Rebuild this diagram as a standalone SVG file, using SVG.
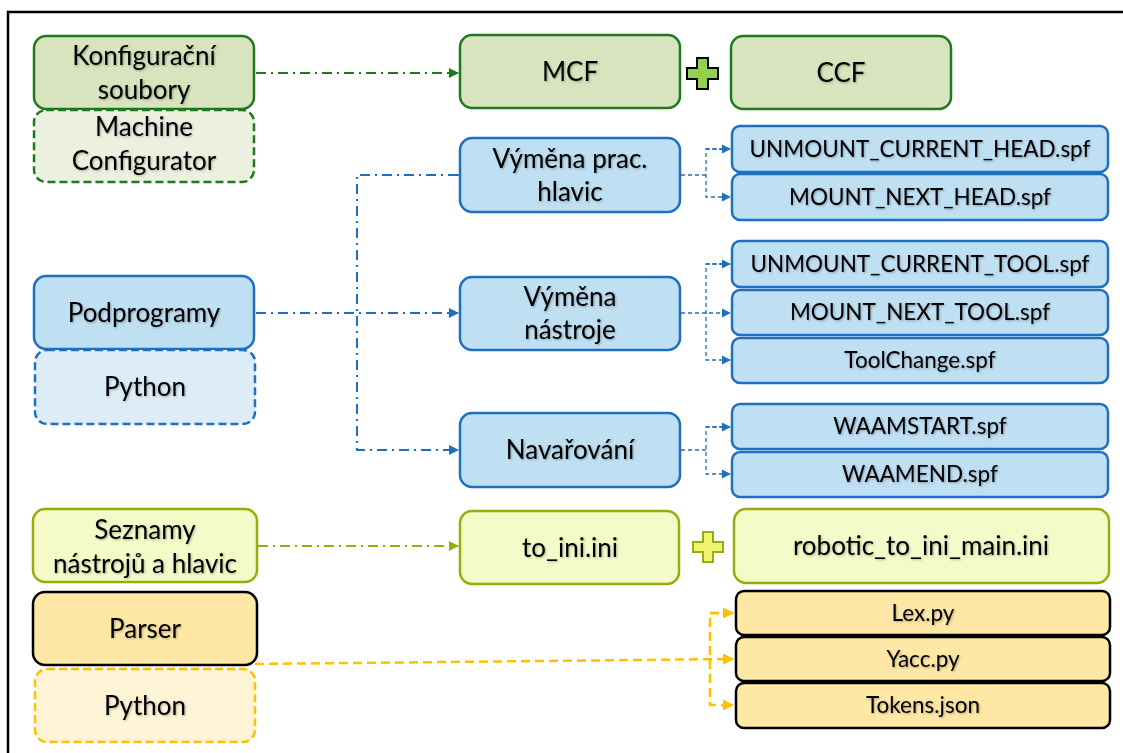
<svg xmlns="http://www.w3.org/2000/svg" width="1123" height="753" viewBox="0 0 1123 753">
  <defs>
    <filter id="ts" x="-10%" y="-30%" width="120%" height="160%">
      <feDropShadow dx="1" dy="1" stdDeviation="0.8" flood-color="#000" flood-opacity="0.3"/>
    </filter>
    <marker id="ah-green" viewBox="0 0 10 10" refX="9" refY="5" markerWidth="5" markerHeight="5" orient="auto" markerUnits="strokeWidth">
      <path d="M0,0 L10,5 L0,10 z" fill="#1e7a1e"/>
    </marker>
    <marker id="ah-blue" viewBox="0 0 10 10" refX="9" refY="5" markerWidth="5" markerHeight="5" orient="auto" markerUnits="strokeWidth">
      <path d="M0,0 L10,5 L0,10 z" fill="#1f6fc0"/>
    </marker>
    <marker id="ah-blue-s" viewBox="0 0 10 10" refX="9" refY="5" markerWidth="7" markerHeight="7" orient="auto" markerUnits="strokeWidth">
      <path d="M0,0 L10,5 L0,10 z" fill="#1f6fc0"/>
    </marker>
    <marker id="ah-olive" viewBox="0 0 10 10" refX="9" refY="5" markerWidth="5" markerHeight="5" orient="auto" markerUnits="strokeWidth">
      <path d="M0,0 L10,5 L0,10 z" fill="#9aab0d"/>
    </marker>
    <marker id="ah-orange" viewBox="0 0 10 10" refX="9" refY="5" markerWidth="4.5" markerHeight="4.5" orient="auto" markerUnits="strokeWidth">
      <path d="M0,0 L10,5 L0,10 z" fill="#ffc000"/>
    </marker>
  </defs>
  <style>
    text { font-family: Lato, "Liberation Sans", sans-serif; fill: #000; text-anchor: middle; filter: url(#ts); }
    .big { font-size: 26px; }
    .file { font-size: 22.5px; }
    .g { fill: #d7e4bd; stroke: #1e7a1e; stroke-width: 2.5; }
    .gd { fill: #ebf1de; stroke: #1e7a1e; stroke-width: 2.5; stroke-dasharray: 8 4; }
    .b { fill: #bfdff3; stroke: #1f6fc0; stroke-width: 2.5; }
    .bd { fill: #ddedf8; stroke: #1f6fc0; stroke-width: 2.5; stroke-dasharray: 8 4; }
    .o { fill: #f4fbc8; stroke: #9aab0d; stroke-width: 2.5; }
    .y { fill: #ffe8a6; stroke: #000; stroke-width: 2.5; }
    .yd { fill: #fff4d6; stroke: #ffc000; stroke-width: 2.5; stroke-dasharray: 8 4; }
    .c-green { fill: none; stroke: #1e7a1e; stroke-width: 2; stroke-dasharray: 10 5 2 5; marker-end: url(#ah-green); }
    .c-blue { fill: none; stroke: #1f6fc0; stroke-width: 2; stroke-dasharray: 10 5 2 5; }
    .c-blue-s { fill: none; stroke: #1f6fc0; stroke-width: 1.3; stroke-dasharray: 4 3; }
    .c-olive { fill: none; stroke: #9aab0d; stroke-width: 2; stroke-dasharray: 10 5 2 5; marker-end: url(#ah-olive); }
    .c-orange { fill: none; stroke: #ffc000; stroke-width: 2.5; stroke-dasharray: 9 5; }
  </style>

  <!-- outer frame (top and left edges) -->
  <path d="M8,753 L8,12 L1123,12" fill="none" stroke="#000" stroke-width="2.5"/>

  <!-- connectors -->
  <g id="connectors">
    <path class="c-green" d="M256,73 L458,73"/>
    <path class="c-blue" d="M256,313 L458,313" marker-end="url(#ah-blue)"/>
    <path class="c-blue" d="M458,175 L357,175 L357,450 L458,450" marker-start="url(#ah-blue)" marker-end="url(#ah-blue)"/>
    <path class="c-blue-s" d="M681,175 L706,175"/>
    <path class="c-blue-s" d="M730,149 L706,149 L706,197 L730,197" marker-end="url(#ah-blue-s)"/>
    <path class="c-blue-s" d="M706,149 L730,149" marker-end="url(#ah-blue-s)"/>
    <path class="c-blue-s" d="M681,313 L730,313" marker-end="url(#ah-blue-s)"/>
    <path class="c-blue-s" d="M730,264 L706,264 L706,360 L730,360" marker-end="url(#ah-blue-s)"/>
    <path class="c-blue-s" d="M706,264 L730,264" marker-end="url(#ah-blue-s)"/>
    <path class="c-blue-s" d="M681,450 L706,450"/>
    <path class="c-blue-s" d="M730,427 L706,427 L706,474 L730,474" marker-end="url(#ah-blue-s)"/>
    <path class="c-blue-s" d="M706,427 L730,427" marker-end="url(#ah-blue-s)"/>
    <path class="c-olive" d="M258,546 L458,546"/>
    <path class="c-orange" d="M255,664 L733,659" marker-end="url(#ah-orange)"/>
    <path class="c-orange" d="M733,613 L710,613 L710,705 L733,705" marker-end="url(#ah-orange)"/>
    <path class="c-orange" d="M710,613 L733,613" marker-end="url(#ah-orange)"/>
  </g>

  <!-- configuration files -->
  <g id="konfiguracni-soubory">
    <rect class="g" x="34" y="36" width="220" height="73" rx="12"/>
    <text class="big" x="144" y="65">Konfigurační</text>
    <text class="big" x="144" y="99">soubory</text>
  </g>
  <g id="machine-configurator">
    <rect class="gd" x="34" y="110" width="220" height="72" rx="12"/>
    <text class="big" x="144" y="136">Machine</text>
    <text class="big" x="144" y="170">Configurator</text>
  </g>
  <g id="mcf">
    <rect class="g" x="460" y="35" width="220" height="73" rx="12"/>
    <text class="big" x="570" y="81">MCF</text>
  </g>
  <g id="plus-green">
    <path d="M697,58 h11 v10 h10 v11 h-10 v10 h-11 v-10 h-10 v-11 h10 z" fill="#92d050" stroke="#000" stroke-width="2"/>
  </g>
  <g id="ccf">
    <rect class="g" x="731" y="36" width="220" height="73" rx="12"/>
    <text class="big" x="841" y="82">CCF</text>
  </g>

  <!-- subprograms -->
  <g id="podprogramy">
    <rect class="b" x="34" y="276" width="220" height="73" rx="12"/>
    <text class="big" x="144" y="322">Podprogramy</text>
  </g>
  <g id="python-blue">
    <rect class="bd" x="35" y="350" width="220" height="74" rx="12"/>
    <text class="big" x="145" y="396">Python</text>
  </g>
  <g id="vymena-hlavic">
    <rect class="b" x="460" y="138" width="220" height="74" rx="12"/>
    <text class="big" x="570" y="168">Výměna prac.</text>
    <text class="big" x="570" y="201">hlavic</text>
  </g>
  <g id="vymena-nastroje">
    <rect class="b" x="460" y="277" width="220" height="73" rx="12"/>
    <text class="big" x="570" y="306">Výměna</text>
    <text class="big" x="570" y="339">nástroje</text>
  </g>
  <g id="navarovani">
    <rect class="b" x="460" y="413" width="220" height="74" rx="12"/>
    <text class="big" x="570" y="459">Navařování</text>
  </g>
  <g id="unmount-current-head">
    <rect class="b" x="732" y="126" width="376" height="46" rx="8"/>
    <text class="file" x="920" y="157">UNMOUNT_CURRENT_HEAD.spf</text>
  </g>
  <g id="mount-next-head">
    <rect class="b" x="732" y="174" width="376" height="46" rx="8"/>
    <text class="file" x="920" y="205">MOUNT_NEXT_HEAD.spf</text>
  </g>
  <g id="unmount-current-tool">
    <rect class="b" x="732" y="241" width="376" height="46" rx="8"/>
    <text class="file" x="920" y="272">UNMOUNT_CURRENT_TOOL.spf</text>
  </g>
  <g id="mount-next-tool">
    <rect class="b" x="732" y="290" width="376" height="45" rx="8"/>
    <text class="file" x="920" y="320">MOUNT_NEXT_TOOL.spf</text>
  </g>
  <g id="toolchange">
    <rect class="b" x="732" y="338" width="376" height="45" rx="8"/>
    <text class="file" x="920" y="368">ToolChange.spf</text>
  </g>
  <g id="waamstart">
    <rect class="b" x="732" y="404" width="376" height="45" rx="8"/>
    <text class="file" x="920" y="434">WAAMSTART.spf</text>
  </g>
  <g id="waamend">
    <rect class="b" x="732" y="452" width="376" height="45" rx="8"/>
    <text class="file" x="920" y="482">WAAMEND.spf</text>
  </g>

  <!-- tool and head lists -->
  <g id="seznamy">
    <rect class="o" x="33" y="509" width="224" height="73" rx="12"/>
    <text class="big" x="145" y="539">Seznamy</text>
    <text class="big" x="145" y="573">nástrojů a hlavic</text>
  </g>
  <g id="to-ini">
    <rect class="o" x="460" y="511" width="219" height="73" rx="12"/>
    <text class="big" x="570" y="557">to_ini.ini</text>
  </g>
  <g id="plus-yellow">
    <path d="M703,532 h10 v10 h10 v10 h-10 v10 h-10 v-10 h-10 v-10 h10 z" fill="#eef56c" stroke="#9aab0d" stroke-width="2"/>
  </g>
  <g id="robotic-to-ini-main">
    <rect class="o" x="734" y="509" width="375" height="74" rx="12"/>
    <text class="big" x="921" y="555">robotic_to_ini_main.ini</text>
  </g>

  <!-- parser -->
  <g id="parser">
    <rect class="y" x="33" y="592" width="224" height="73" rx="12"/>
    <text class="big" x="145" y="638">Parser</text>
  </g>
  <g id="python-orange">
    <rect class="yd" x="35" y="669" width="220" height="73" rx="12"/>
    <text class="big" x="145" y="715">Python</text>
  </g>
  <g id="lex">
    <rect class="y" x="736" y="591" width="374" height="44" rx="8"/>
    <text class="file" x="923" y="621">Lex.py</text>
  </g>
  <g id="yacc">
    <rect class="y" x="736" y="637" width="374" height="44" rx="8"/>
    <text class="file" x="923" y="667">Yacc.py</text>
  </g>
  <g id="tokens">
    <rect class="y" x="736" y="683" width="374" height="45" rx="8"/>
    <text class="file" x="923" y="713">Tokens.json</text>
  </g>
</svg>
